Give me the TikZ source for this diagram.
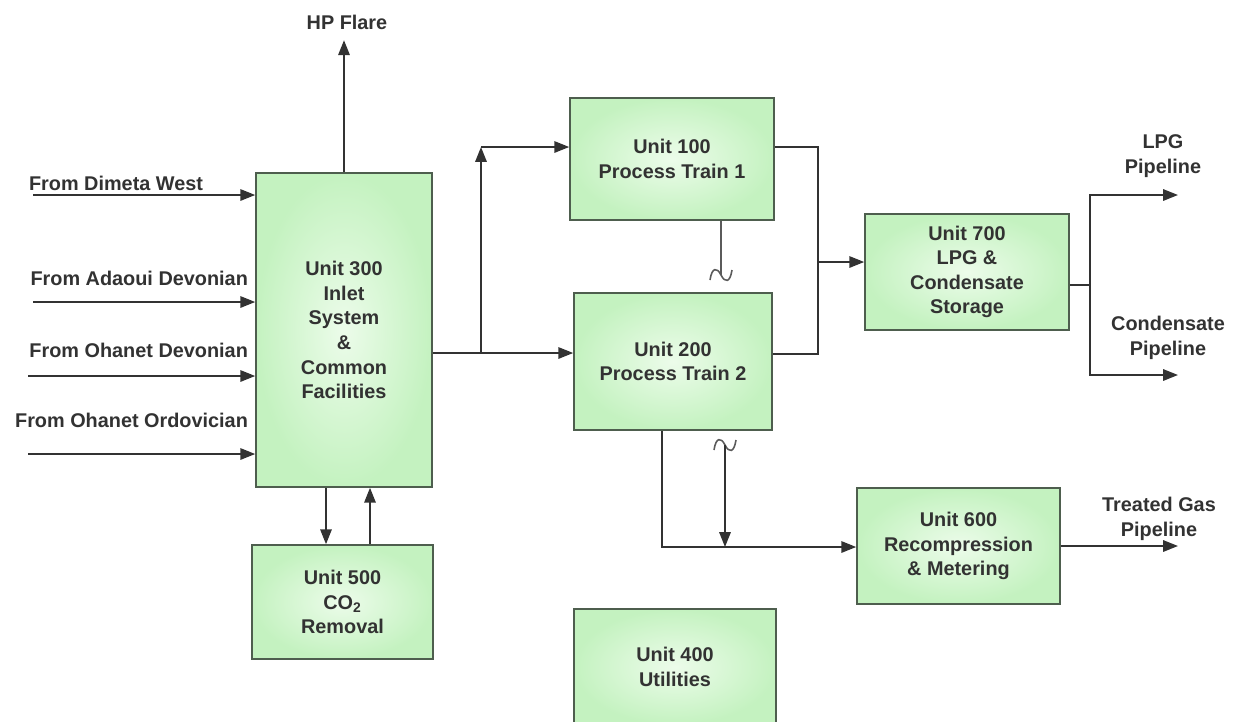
\documentclass[tikz,border=0pt]{standalone}
\usepackage{fontspec}
\setmainfont{Liberation Sans}
\usetikzlibrary{arrows.meta}

\definecolor{boxin}{RGB}{236,252,234}
\definecolor{boxout}{RGB}{196,242,192}
\definecolor{boxline}{RGB}{78,94,78}
\definecolor{ink}{RGB}{50,50,50}

\begin{document}
\begin{tikzpicture}[x=0.02cm, y=-0.02cm, >={Triangle[length=8.5pt,width=6.5pt]},
  unit/.style={draw=boxline, line width=0.9pt, inner color=boxin, outer color=boxout,
    align=center, text=ink, font=\fontsize{11.3}{14}\selectfont\bfseries},
  lbl/.style={text=ink, align=center, inner sep=1pt, font=\fontsize{11.3}{14}\selectfont\bfseries},
  flow/.style={draw=ink, line width=1.1pt},
  brk/.style={draw=ink!80, line width=0.9pt},
  wiggle/.pic={\draw[brk] (-11,5) .. controls (-9,-8) and (-4,-8) .. (0,0) .. controls (4,8) and (9,8) .. (11,-5);}]
  \useasboundingbox (0,0) rectangle (1238,721);

  % Units
  \node[unit, minimum width=3.52cm, minimum height=6.28cm] (u300) at (344,330)
    {Unit 300\\Inlet\\System\\\&\\Common\\Facilities};
  \node[unit, minimum width=3.62cm, minimum height=2.28cm] (u500) at (342.5,602)
    {Unit 500\\CO\textsubscript{2}\\Removal};
  \node[unit, minimum width=4.08cm, minimum height=2.44cm] (u100) at (672,159)
    {Unit 100\\Process Train 1};
  \node[unit, minimum width=3.96cm, minimum height=2.74cm] (u200) at (673,361.5)
    {Unit 200\\Process Train 2};
  \node[unit, minimum width=4.04cm, minimum height=2.32cm] (u400) at (675,667)
    {Unit 400\\Utilities};
  \node[unit, minimum width=4.08cm, minimum height=2.32cm] (u700) at (967,272)
    {Unit 700\\LPG \&\\Condensate\\Storage};
  \node[unit, minimum width=4.06cm, minimum height=2.32cm] (u600) at (958.5,546)
    {Unit 600\\Recompression\\\& Metering};

  % Labels
  \node[lbl] (flare) at (347,22) {HP Flare};
  \node[lbl, anchor=west] (src1) at (27,183) {From Dimeta West};
  \node[lbl, anchor=east] (src2) at (250,278) {From Adaoui Devonian};
  \node[lbl, anchor=east] (src3) at (250,350) {From Ohanet Devonian};
  \node[lbl, anchor=east] (src4) at (250,420) {From Ohanet Ordovician};
  \node[lbl] (lpg) at (1163,156) {LPG\\Pipeline};
  \node[lbl] (cnd) at (1168,338) {Condensate\\Pipeline};
  \node[lbl] (tgp) at (1159,519) {Treated Gas\\Pipeline};

  % Points
  \coordinate (in1) at (33,195);
  \coordinate (in2) at (33,302);
  \coordinate (in3) at (28,376);
  \coordinate (in4) at (28,454);
  \coordinate (split) at (481,353);
  \coordinate (up) at (481,147);
  \coordinate (mtop) at (818,147);
  \coordinate (mbot) at (818,354);
  \coordinate (merge) at (818,262);
  \coordinate (fork) at (1090,285);
  \coordinate (lpgout) at (1178,195);
  \coordinate (cndout) at (1178,375);
  \coordinate (tgout) at (1178,546);
  \coordinate (c2) at (662,547);
  \coordinate (dn5) at (326,0);
  \coordinate (up5) at (370,0);
  \coordinate (brk1) at (721,275);
  \coordinate (brk2) at (725,445);

  % Inlets
  \draw[flow,->] (in1) -- (in1 -| u300.west);
  \draw[flow,->] (in2) -- (in2 -| u300.west);
  \draw[flow,->] (in3) -- (in3 -| u300.west);
  \draw[flow,->] (in4) -- (in4 -| u300.west);
  \draw[flow,->,shorten >=5pt] (u300.north) -- (u300.north |- flare.south);

  % CO2 loop
  \draw[flow,->] (u300.south -| dn5) -- (u500.north -| dn5);
  \draw[flow,->] (u500.north -| up5) -- (u300.south -| up5);

  % Trains
  \draw[flow,->] (split -| u300.east) -- (split -| u200.west);
  \draw[flow,->] (split) -- (up);
  \draw[flow,->] (up) -- (up -| u100.west);
  \draw[flow] (mtop -| u100.east) -- (mtop) -- (mbot) -- (mbot -| u200.east);
  \draw[flow,->] (merge) -- (merge -| u700.west);

  % Products
  \draw[flow] (fork -| u700.east) -- (fork);
  \draw[flow,->] (fork) |- (lpgout);
  \draw[flow,->] (fork) |- (cndout);
  \draw[flow,->] (u200.south -| c2) -- (c2) -- (c2 -| u600.west);
  \draw[flow,->] (tgout -| u600.east) -- (tgout);

  % Breaks
  \draw[brk] (u100.south -| brk1) -- (brk1);
  \pic at (brk1) {wiggle};
  \pic at (brk2) {wiggle};
  \draw[flow,->] (brk2) -- (brk2 |- c2);
\end{tikzpicture}
\end{document}
